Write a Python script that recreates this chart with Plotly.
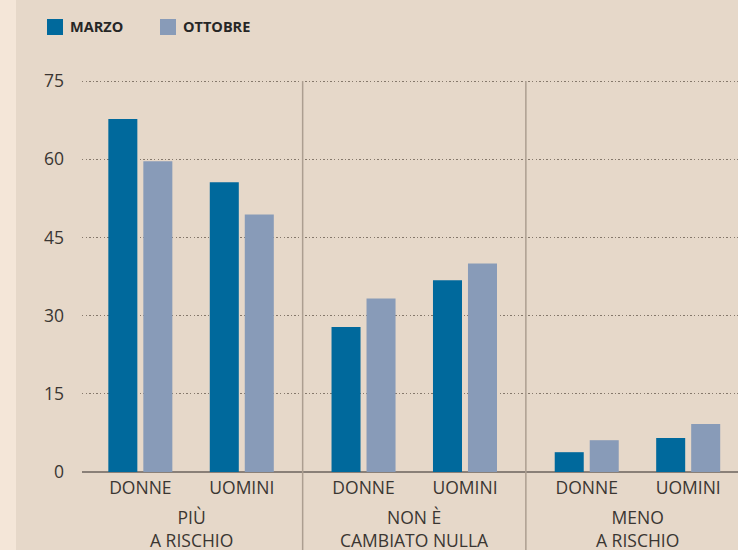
import plotly.graph_objects as go

# ---- data ----
groups = ["PIÙ<br>A RISCHIO", "NON È<br>CAMBIATO NULLA", "MENO<br>A RISCHIO"]
subcats = ["DONNE", "UOMINI"]
marzo = [67.7, 55.6, 27.8, 36.8, 3.8, 6.5]
ottobre = [59.6, 49.4, 33.3, 40.0, 6.1, 9.2]
series_names = ["MARZO", "OTTOBRE"]
y_ticks = [0, 15, 30, 45, 60, 75]

# ---- styling ----
BG = "#e6d8c9"
STRIP = "#f4e6d8"
C_MARZO = "#00699c"
C_OTT = "#889bb8"
TXT = "#3a3632"
FONT = "Open Sans"
W, H = 738, 550
ML, MR, MT, MB = 82, 0, 71, 75

# positions: pairs inside a group 1 apart, groups separated by an extra 0.2
GROUP_GAP = 1.2
x_pos = []
tick_text = []
for gi in range(len(groups)):
    for si, s in enumerate(subcats):
        x_pos.append(gi * (len(subcats) - 1 + GROUP_GAP) + si)
        tick_text.append(s)

colors = [C_MARZO, C_OTT]
fig = go.Figure()
for name, vals, col in zip(series_names, [marzo, ottobre], colors):
    fig.add_trace(go.Bar(x=x_pos, y=vals, name=name,
                         marker=dict(color=col, line=dict(width=0)), showlegend=False))

x_range = [-0.575, 5.891]
y_range = [-0.575, 76.92]

def ypaper(v):
    return (v - y_range[0]) / (y_range[1] - y_range[0])

def px_to_paper_x(px):
    return (px - ML) / (W - ML - MR)

def px_to_paper_y(py):
    return (H - MB - py) / (H - MT - MB)

shapes = [
    dict(type="rect", xref="paper", yref="paper", x0=-0.2, x1=px_to_paper_x(16), y0=-0.5, y1=1.5,
         fillcolor=STRIP, line=dict(width=0), layer="below"),
]
# group separators, midway between groups
for gi in range(len(groups) - 1):
    xs = (x_pos[gi * 2 + 1] + x_pos[gi * 2 + 2]) / 2
    shapes.append(dict(type="line", xref="x", yref="paper", x0=xs, x1=xs,
                       y0=-0.3, y1=ypaper(y_ticks[-1]),
                       line=dict(color="#ac9e90", width=1.5), layer="above"))

annotations = []
for gi, g in enumerate(groups):
    xc = (x_pos[gi * 2] + x_pos[gi * 2 + 1]) / 2
    annotations.append(dict(text=g, x=xc, xref="x", y=-0.1325, yref="paper",
                            yanchor="middle", xanchor="center", showarrow=False,
                            font=dict(family=FONT, size=17.5, color=TXT)))

# legend: square swatch + bold label
legend_left = [47, 160]
for name, col, lx in zip(series_names, colors, legend_left):
    shapes.append(dict(type="rect", xref="paper", yref="paper",
                       x0=px_to_paper_x(lx), x1=px_to_paper_x(lx + 16),
                       y0=px_to_paper_y(35), y1=px_to_paper_y(19),
                       fillcolor=col, line=dict(width=0)))
    annotations.append(dict(text=name, xref="paper", yref="paper",
                            x=px_to_paper_x(lx + 21), y=px_to_paper_y(27),
                            xanchor="left", yanchor="middle", showarrow=False,
                            font=dict(family=FONT, size=14.5, color="#262626", weight=700)))

fig.update_layout(
    width=W, height=H,
    margin=dict(l=ML, r=MR, t=MT, b=MB),
    paper_bgcolor=BG, plot_bgcolor=BG,
    barmode="group", bargap=0.31, bargroupgap=0.171,
    font=dict(family=FONT, color=TXT),
    shapes=shapes, annotations=annotations,
    showlegend=False,
    xaxis=dict(range=x_range, tickmode="array", tickvals=x_pos, ticktext=tick_text,
               showgrid=False, zeroline=False, showline=False, ticks="",
               tickfont=dict(family=FONT, size=17.5, color=TXT), fixedrange=True),
    yaxis=dict(range=y_range, tickmode="array", tickvals=y_ticks,
               showgrid=True, gridcolor="#85786b", gridwidth=1.4, griddash="1.4px,2.2px",
               zeroline=True, zerolinecolor="#8a8078", zerolinewidth=2,
               showline=False, ticks="", ticklabelstandoff=17,
               tickfont=dict(family=FONT, size=17.5, color=TXT), fixedrange=True),
)

fig.write_html("out.html", config={"displayModeBar": False},
               post_script="document.body.style.margin='0';document.body.style.background='" + BG + "';")
